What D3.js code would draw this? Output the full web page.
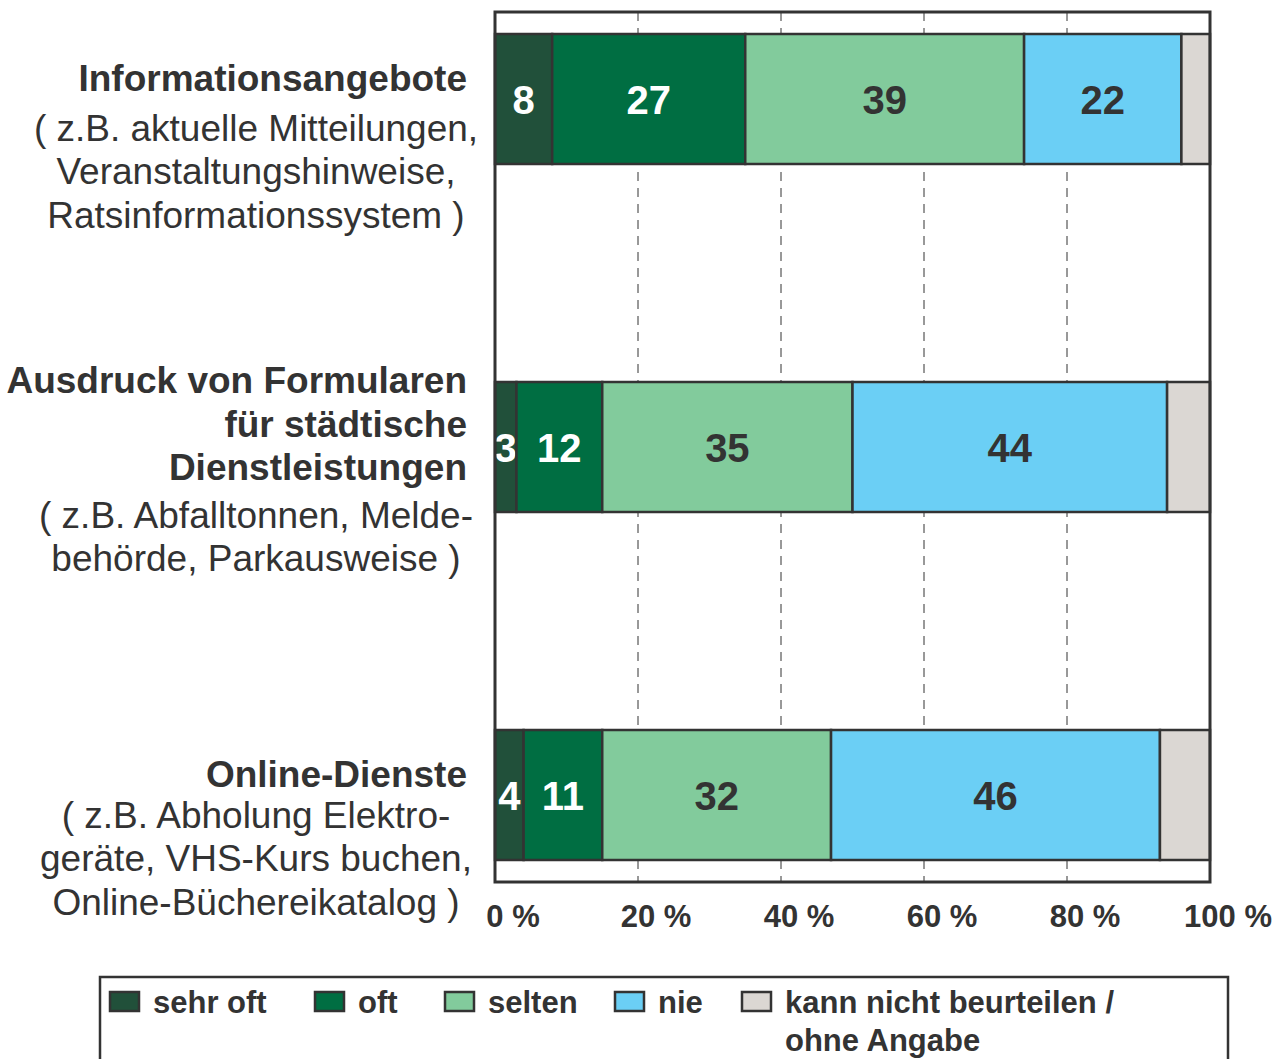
<!DOCTYPE html>
<html>
<head>
<meta charset="utf-8">
<script src="https://cdn.jsdelivr.net/npm/d3@7"></script>
<style>
  body { margin: 0; background: #fff; }
  text { font-family: "Liberation Sans", Arial, sans-serif; fill: #333; }
</style>
</head>
<body>
<svg id="chart" width="1281" height="1059"></svg>
<script>
// Nutzung der Online-Angebote

var categories = ["Informationsangebote", "Formulare", "Online-Dienste"];
var titleLines = [
  ["Informationsangebote"],
  ["Ausdruck von Formularen", "für städtische", "Dienstleistungen"],
  ["Online-Dienste"]
];
var subLines = [
  ["( z.B. aktuelle Mitteilungen,", "Veranstaltungshinweise,", "Ratsinformationssystem )"],
  ["( z.B. Abfalltonnen, Melde-", "behörde, Parkausweise )"],
  ["( z.B. Abholung Elektro-", "geräte, VHS-Kurs buchen,", "Online-Büchereikatalog )"]
];
var seriesNames = ["sehr oft", "oft", "selten", "nie", "kann nicht beurteilen / ohne Angabe"];
var sehrOft = [8, 3, 4];
var oft = [27, 12, 11];
var selten = [39, 35, 32];
var nie = [22, 44, 46];
var keineAngabe = [4, 6, 7];
var showLabel = [true, true, true, true, false];
var tickValues = [0, 20, 40, 60, 80, 100];

var colors = ["#21503a", "#006e42", "#82cb9c", "#6bcff5", "#dbd7d3"];
var labelColors = ["#fff", "#fff", "#333", "#333", "#333"];

var svg = d3.select("#chart");
var plotLeft = 495, plotRight = 1210, plotTop = 12, plotBottom = 882;

var x = d3.scaleLinear().domain([0, 100]).range([plotLeft, plotRight]);
var y = d3.scaleBand().domain(categories).range([34, 860]).paddingInner(1 - 130 / 348).paddingOuter(0);

var rows = categories.map(function (c, i) {
  return { cat: c, sehrOft: sehrOft[i], oft: oft[i], selten: selten[i], nie: nie[i], keine: keineAngabe[i] };
});
var stack = d3.stack().keys(["sehrOft", "oft", "selten", "nie", "keine"])(rows);

// gridlines
svg.append("g")
  .selectAll("line")
  .data(tickValues.slice(1, -1))
  .enter()
  .append("line")
  .attr("x1", function (d) { return x(d); })
  .attr("x2", function (d) { return x(d); })
  .attr("y1", plotTop)
  .attr("y2", plotBottom)
  .attr("stroke", "#333")
  .attr("stroke-width", 1)
  .attr("stroke-dasharray", "9,7");

// bars
var layer = svg.append("g")
  .selectAll("g")
  .data(stack)
  .enter()
  .append("g");

layer.selectAll("rect")
  .data(function (s, k) { return s.map(function (p) { return { p: p, k: k }; }); })
  .enter()
  .append("rect")
  .attr("x", function (d) { return x(d.p[0]); })
  .attr("width", function (d) { return x(d.p[1]) - x(d.p[0]); })
  .attr("y", function (d) { return y(d.p.data.cat); })
  .attr("height", y.bandwidth())
  .attr("fill", function (d) { return colors[d.k]; })
  .attr("stroke", "#333")
  .attr("stroke-width", 2.5);

layer.selectAll("text")
  .data(function (s, k) { return showLabel[k] ? s.map(function (p) { return { p: p, k: k }; }) : []; })
  .enter()
  .append("text")
  .attr("x", function (d) { return (x(d.p[0]) + x(d.p[1])) / 2; })
  .attr("y", function (d) { return y(d.p.data.cat) + y.bandwidth() / 2 + 15; })
  .attr("text-anchor", "middle")
  .style("font-size", "40px")
  .style("font-weight", "bold")
  .style("fill", function (d) { return labelColors[d.k]; })
  .text(function (d) { return d.p[1] - d.p[0]; });

// frame
svg.append("rect")
  .attr("x", plotLeft)
  .attr("y", plotTop)
  .attr("width", plotRight - plotLeft)
  .attr("height", plotBottom - plotTop)
  .attr("fill", "none")
  .attr("stroke", "#333")
  .attr("stroke-width", 3);

// x axis labels
svg.append("g")
  .selectAll("text")
  .data(tickValues)
  .enter()
  .append("text")
  .attr("x", function (d) { return x(d) + 18; })
  .attr("y", 927)
  .attr("text-anchor", "middle")
  .style("font-size", "31px")
  .style("font-weight", "bold")
  .text(function (d) { return d + " %"; });

// category labels
var subGap = [50, 48, 41];
var catG = svg.append("g")
  .selectAll("g")
  .data(categories)
  .enter()
  .append("g");

catG.each(function (c, i) {
  var g = d3.select(this);
  var y0 = y(c) + 57 - (titleLines[i].length - 1) * 23;
  titleLines[i].forEach(function (t, j) {
    g.append("text")
      .attr("x", 467)
      .attr("y", y0 + j * 43.5)
      .attr("text-anchor", "end")
      .style("font-size", "37px")
      .style("font-weight", "bold")
      .text(t);
  });
  var s0 = y0 + (titleLines[i].length - 1) * 43.5 + subGap[i];
  subLines[i].forEach(function (t, j) {
    g.append("text")
      .attr("x", 256)
      .attr("y", s0 + j * 43.3)
      .attr("text-anchor", "middle")
      .style("font-size", "37px")
      .text(t);
  });
});

// legend
svg.append("rect")
  .attr("x", 100)
  .attr("y", 977)
  .attr("width", 1128)
  .attr("height", 100)
  .attr("fill", "none")
  .attr("stroke", "#333")
  .attr("stroke-width", 2.5);

var legendX = [110, 315, 445, 615, 742];
var legend = svg.append("g")
  .selectAll("g")
  .data(seriesNames)
  .enter()
  .append("g")
  .attr("transform", function (d, i) { return "translate(" + legendX[i] + ",992)"; });

legend.append("rect")
  .attr("width", 29)
  .attr("height", 19)
  .attr("fill", function (d, i) { return colors[i]; })
  .attr("stroke", "#333")
  .attr("stroke-width", 2.5);

legend.append("text")
  .attr("x", 43)
  .attr("y", 21)
  .style("font-size", "31px")
  .style("font-weight", "bold")
  .each(function (d) {
    var parts = d.split(" / ");
    var t = d3.select(this);
    if (parts.length > 1) {
      t.append("tspan").attr("x", 43).attr("dy", 0).text(parts[0] + " /");
      t.append("tspan").attr("x", 43).attr("dy", 38).text(parts[1]);
    } else {
      t.text(d);
    }
  });
</script>
</body>
</html>
